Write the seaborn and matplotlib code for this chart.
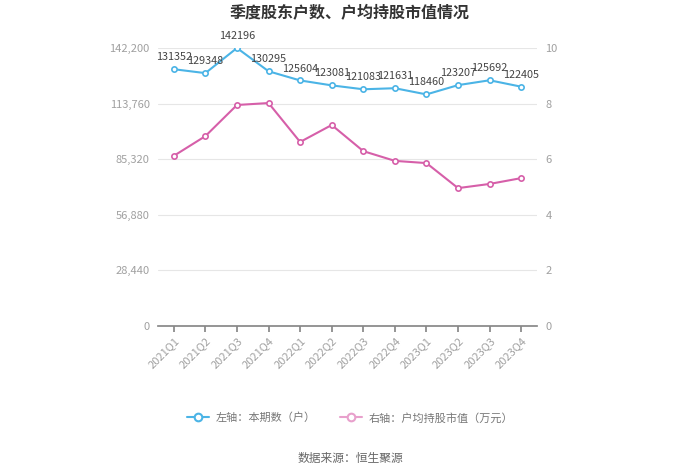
import matplotlib
matplotlib.use("Agg")
import matplotlib.pyplot as plt
from matplotlib.lines import Line2D
import seaborn as sns
import pandas as pd

quarters = ["2021Q1", "2021Q2", "2021Q3", "2021Q4", "2022Q1", "2022Q2",
            "2022Q3", "2022Q4", "2023Q1", "2023Q2", "2023Q3", "2023Q4"]
holders = [131352, 129348, 142196, 130295, 125604, 123081,
           121083, 121631, 118460, 123207, 125692, 122405]
avg_value = [6.12, 6.83, 7.95, 8.02, 6.62, 7.23, 6.29, 5.94, 5.86, 4.96, 5.11, 5.32]
left_ticks = [0, 28440, 56880, 85320, 113760, 142200]
right_ticks = [0, 2, 4, 6, 8, 10]

sns.set_theme(style="white")
plt.rcParams['font.family'] = ['Noto Sans CJK SC', 'DejaVu Sans']

blue = "#4bb4e6"
pink = "#d65fa9"
tick_col = "#a0a0a0"

df = pd.DataFrame({"q": quarters, "x": range(len(quarters)), "h": holders, "v": avg_value})

fig = plt.figure(figsize=(7, 4.74), dpi=100)
ax = fig.add_axes([158/700, 1-326/474, (537-158)/700, (326-48)/474])
ax2 = ax.twinx()

sns.lineplot(data=df, x="x", y="h", ax=ax, color=blue, lw=1.5, marker="o",
             markersize=3.8, markerfacecolor="white", markeredgecolor=blue,
             markeredgewidth=1.2, zorder=5)
sns.lineplot(data=df, x="x", y="v", ax=ax2, color=pink, lw=1.5, marker="o",
             markersize=3.8, markerfacecolor="white", markeredgecolor=pink,
             markeredgewidth=1.2, zorder=5)

ax.set_xlim(-0.5, len(quarters) - 0.5)
ax.set_ylim(0, 142200)
ax2.set_ylim(0, 10)
ax.set_yticks(left_ticks)
ax.set_yticklabels([f"{t:,}" for t in left_ticks])
ax2.set_yticks(right_ticks)
ax2.set_yticklabels([str(t) for t in right_ticks])
ax.set_xticks(range(len(quarters)))
ax.set_xticklabels(quarters, rotation=45, ha="right", rotation_mode="anchor")

for a in (ax, ax2):
    a.set_xlabel("")
    a.set_ylabel("")
    for s in a.spines.values():
        s.set_visible(False)
    a.tick_params(axis="y", length=0, labelsize=8, labelcolor=tick_col, pad=6)
ax.spines["bottom"].set_visible(True)
ax.spines["bottom"].set_color("#888888")
ax.tick_params(axis="x", length=4, color="#888888", labelsize=8, labelcolor=tick_col, pad=3, bottom=True)
ax.yaxis.grid(True, color="#e6e6e6", lw=0.8)
ax.set_axisbelow(True)
ax2.grid(False)

for i, h in enumerate(holders):
    ax.annotate(str(h), (i, h), xytext=(0, 5), textcoords="offset points",
                ha="center", va="bottom", fontsize=7.8, color="#444444", zorder=6)

fig.text(0.5, 1-13/474, "季度股东户数、户均持股市值情况", ha="center", va="center",
         fontsize=11.5, fontweight="bold", color="#333333")

handles = [
    Line2D([0], [0], color=blue, lw=1.5, marker="o", markersize=5.5, markerfacecolor="white",
           markeredgecolor=blue, markeredgewidth=1.5),
    Line2D([0], [0], color="#e8a0cc", lw=1.5, marker="o", markersize=5.5, markerfacecolor="white",
           markeredgecolor="#e8a0cc", markeredgewidth=1.5),
]
leg = fig.legend(handles, ["左轴：本期数（户）", "右轴：户均持股市值（万元）"], loc="center",
                 bbox_to_anchor=(0.5, 1-418/474), ncol=2, frameon=False, fontsize=8,
                 handlelength=2, columnspacing=2.2, handletextpad=0.6)
for t in leg.get_texts():
    t.set_color("#777777")

fig.text(0.5, 1-458/474, "数据来源：恒生聚源", ha="center", va="center", fontsize=8.5, color="#666666")

fig.savefig("out.png", dpi=100)
